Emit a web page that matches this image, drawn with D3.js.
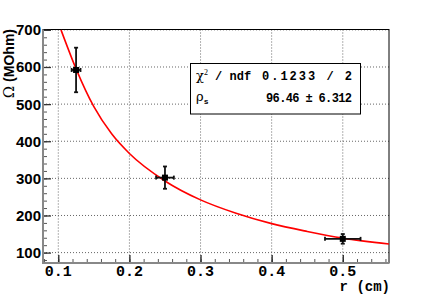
<!DOCTYPE html>
<html><head><meta charset="utf-8">
<script src="https://cdn.jsdelivr.net/npm/d3@7"></script>
<style>body{margin:0;background:#fff}svg{display:block}</style>
</head><body>
<script>
// data
const pointR = [0.125, 0.25, 0.5];
const pointOhm = [592, 302, 137];
const errR = [0.00625, 0.0125, 0.025];
const errOhm = [60, 30, 13];
const fitR = [0.1038, 0.125, 0.15, 0.175, 0.2, 0.25, 0.3, 0.35, 0.4, 0.45, 0.5, 0.565];
const fitOhm = [700, 595, 493, 420, 367, 293, 242, 206, 178, 157, 139, 123];
const xTicks = [0.1, 0.2, 0.3, 0.4, 0.5];
const yTicks = [100, 200, 300, 400, 500, 600, 700];
const statValues = ["0.1233 / 2", "96.46 ± 6.312"];

const W = 433, H = 294;
const L = 43, R = 389, T = 29.5, B = 263;
const svg = d3.select("body").append("svg").attr("width", W).attr("height", H);
const x = d3.scaleLinear().domain([0.0785, 0.565]).range([L, R]);
const y = d3.scaleLinear().domain([72, 701]).range([B, T]);

// grid
const g = svg.append("g");
g.selectAll(".gx").data(xTicks).enter().append("line")
  .attr("x1", d => x(d)).attr("x2", d => x(d)).attr("y1", T).attr("y2", B)
  .attr("stroke", "#666").attr("stroke-width", 1).attr("stroke-dasharray", "1,2");
g.selectAll(".gy").data(yTicks).enter().append("line")
  .attr("x1", L).attr("x2", R).attr("y1", d => y(d)).attr("y2", d => y(d))
  .attr("stroke", "#666").attr("stroke-width", 1).attr("stroke-dasharray", "1,2");

// frame
svg.append("rect").attr("x", L).attr("y", T).attr("width", R - L).attr("height", B - T)
  .attr("fill", "none").attr("stroke", "#000").attr("stroke-width", 1);

// axes
const xMinor = d3.range(0.08, 0.5651, 0.02);
const yMinor = d3.range(80, 701, 20);
const xa = svg.append("g").attr("transform", `translate(0,${B})`)
  .call(d3.axisTop(x).tickValues(xMinor).tickSize(4).tickFormat(""));
xa.select(".domain").remove();
xa.selectAll("line").attr("stroke", "#555");
const xb = svg.append("g").attr("transform", `translate(0,${B})`)
  .call(d3.axisTop(x).tickValues(xTicks).tickSize(8).tickFormat(""));
xb.select(".domain").remove();
xb.selectAll("line").attr("stroke", "#222").attr("stroke-width", 1.3);
const ya = svg.append("g").attr("transform", `translate(${L},0)`)
  .call(d3.axisRight(y).tickValues(yMinor).tickSize(4).tickFormat(""));
ya.select(".domain").remove();
ya.selectAll("line").attr("stroke", "#555");
const yb = svg.append("g").attr("transform", `translate(${L},0)`)
  .call(d3.axisRight(y).tickValues(yTicks).tickSize(8).tickFormat(""));
yb.select(".domain").remove();
yb.selectAll("line").attr("stroke", "#333").attr("stroke-width", 1.3);

svg.append("line").attr("x1", L).attr("x2", L).attr("y1", T).attr("y2", B + 1)
  .attr("stroke", "#888").attr("stroke-width", 2);
svg.append("line").attr("x1", L - 1).attr("x2", R).attr("y1", B).attr("y2", B)
  .attr("stroke", "#888").attr("stroke-width", 2);

// tick labels
svg.selectAll(".xl").data(xTicks).enter().append("text")
  .attr("x", d => x(d)).attr("y", 276).attr("text-anchor", "middle")
  .attr("font-family", "Liberation Mono, monospace").attr("font-weight", "bold")
  .attr("font-size", 15).text(d => d3.format(".1f")(d));
svg.selectAll(".yl").data(yTicks).enter().append("text")
  .attr("x", 41).attr("y", d => y(d) + 5.5).attr("text-anchor", "end")
  .attr("font-family", "Liberation Sans, Arial, sans-serif").attr("font-weight", "bold")
  .attr("font-size", 15).text(d => d);

// axis titles
svg.append("text").attr("x", 390).attr("y", 291).attr("text-anchor", "end")
  .attr("font-family", "Liberation Mono, monospace").attr("font-weight", "bold")
  .attr("font-size", 14).attr("xml:space", "preserve").text("r (cm)");
const yt = svg.append("text").attr("transform", "translate(14,29) rotate(-90)")
  .attr("text-anchor", "end")
  .attr("font-family", "Liberation Sans, Arial, sans-serif").attr("font-weight", "bold")
  .attr("font-size", 14);
yt.append("tspan").attr("font-family", "DejaVu Serif, serif").attr("font-weight", "normal").attr("font-size", 15).text("Ω");
yt.append("tspan").text(" (MOhm)");

// clip
svg.append("clipPath").attr("id", "clip").append("rect")
  .attr("x", L).attr("y", T).attr("width", R - L).attr("height", B - T);

// fit curve
const line = d3.line().x(d => x(d[0])).y(d => y(d[1])).curve(d3.curveMonotoneX);
svg.append("path").datum(fitR.map((r, i) => [r, fitOhm[i]]))
  .attr("clip-path", "url(#clip)")
  .attr("d", line).attr("fill", "none").attr("stroke", "#ff0000").attr("stroke-width", 1.6);

// points with error bars
const pts = pointR.map((r, i) => ({ r, o: pointOhm[i], er: errR[i], eo: errOhm[i] }));
const pg = svg.append("g").attr("stroke", "#111").attr("stroke-width", 1.8);
pts.forEach(p => {
  const cx = x(p.r), cy = y(p.o);
  pg.append("line").attr("x1", cx).attr("x2", cx).attr("y1", y(p.o + p.eo)).attr("y2", y(p.o - p.eo));
  pg.append("line").attr("x1", x(p.r - p.er)).attr("x2", x(p.r + p.er)).attr("y1", cy).attr("y2", cy);
  pg.append("line").attr("x1", cx - 2).attr("x2", cx + 2).attr("y1", y(p.o + p.eo)).attr("y2", y(p.o + p.eo));
  pg.append("line").attr("x1", cx - 2).attr("x2", cx + 2).attr("y1", y(p.o - p.eo)).attr("y2", y(p.o - p.eo));
  pg.append("line").attr("x1", x(p.r - p.er)).attr("x2", x(p.r - p.er)).attr("y1", cy - 2).attr("y2", cy + 2);
  pg.append("line").attr("x1", x(p.r + p.er)).attr("x2", x(p.r + p.er)).attr("y1", cy - 2).attr("y2", cy + 2);
  svg.append("rect").attr("x", cx - 3).attr("y", cy - 3).attr("width", 6).attr("height", 6).attr("fill", "#000");
});

// stats box
svg.append("rect").attr("x", 190.5).attr("y", 63.5).attr("width", 170).attr("height", 50.5)
  .attr("fill", "#fff").attr("stroke", "#000").attr("stroke-width", 1);
const t1 = svg.append("text").attr("x", 196).attr("y", 80)
  .attr("font-family", "Liberation Mono, monospace").attr("font-weight", "bold").attr("font-size", 12);
t1.append("tspan").attr("font-family", "DejaVu Serif, serif").attr("font-weight", "normal").attr("font-size", 13).text("χ");
t1.append("tspan").attr("font-family", "Liberation Serif, serif").attr("font-weight", "normal").attr("font-size", 8).attr("dy", -5).text("2");
t1.append("tspan").attr("dy", 5).text(" / ndf");
const t2 = svg.append("text").attr("x", 196).attr("y", 101)
  .attr("font-family", "Liberation Mono, monospace").attr("font-weight", "bold").attr("font-size", 12);
t2.append("tspan").attr("font-family", "DejaVu Serif, serif").attr("font-weight", "normal").attr("font-size", 13).text("ρ");
t2.append("tspan").attr("font-size", 8).attr("dy", 3).text("s");
const statLeft = [262, 266];
svg.selectAll(".sv").data(statValues).enter().append("text")
  .attr("x", (d, i) => statLeft[i]).attr("y", (d, i) => i === 0 ? 80 : 102)
  .attr("textLength", (d, i) => 352 - statLeft[i]).attr("lengthAdjust", "spacing")
  .attr("font-family", "Liberation Mono, monospace").attr("font-weight", "bold")
  .attr("font-size", 12).attr("xml:space", "preserve").text(d => d);
</script>
</body></html>
